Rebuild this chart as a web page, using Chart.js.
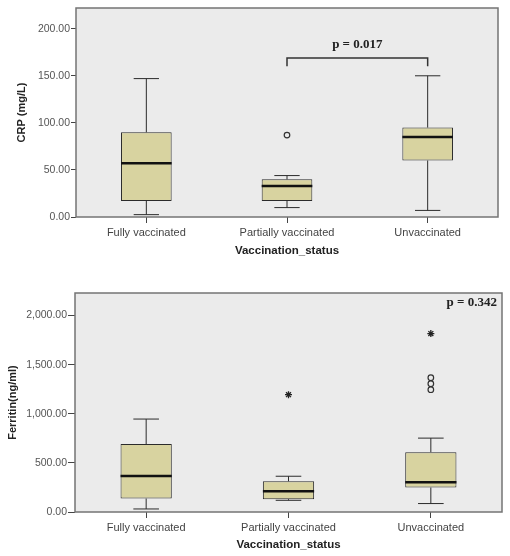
<!DOCTYPE html>
<html>
<head>
<meta charset="utf-8">
<script src="https://cdn.jsdelivr.net/npm/chart.js@4.4.1/dist/chart.umd.min.js"></script>
<style>
  html, body { margin: 0; padding: 0; background: #fff; }
  #wrap { position: relative; width: 510px; height: 556px; }
  canvas { position: absolute; left: 0; }
  #crpChart { top: 0; }
  #ferritinChart { top: 262px; }
</style>
</head>
<body>
<div id="wrap">
  <canvas id="crpChart" width="510" height="262"></canvas>
  <canvas id="ferritinChart" width="510" height="294"></canvas>
</div>
<script>
const categories = ['Fully vaccinated', 'Partially vaccinated', 'Unvaccinated'];

// CRP (mg/L) box stats per group
const crpMin = [2.5, 10, 7];
const crpQ1 = [17, 17, 60];
const crpMedian = [57, 33, 85];
const crpQ3 = [90, 40, 95];
const crpMax = [147, 44, 150];
const crpCircleGroup = [1];
const crpCircleValue = [87];
const crpStarGroup = [];
const crpStarValue = [];
const crpTicks = [0, 50, 100, 150, 200];

// Ferritin (ng/ml) box stats per group
const ferMin = [31, 119, 86];
const ferQ1 = [137, 130, 249];
const ferMedian = [367, 211, 303];
const ferQ3 = [691, 313, 609];
const ferMax = [946, 364, 752];
const ferCircleGroup = [2, 2, 2];
const ferCircleValue = [1245, 1306, 1367];
const ferStarGroup = [1, 2];
const ferStarValue = [1194, 1816];
const ferTicks = [0, 500, 1000, 1500, 2000];

const plotBg = {
    id: 'plotBg',
    beforeDraw(chart) {
        const { ctx, chartArea: a } = chart;
        ctx.save();
        ctx.fillStyle = '#ebebeb';
        ctx.fillRect(a.left, a.top, a.right - a.left, a.bottom - a.top);
        ctx.restore();
    },
    afterDraw(chart) {
        const { ctx, chartArea: a } = chart;
        ctx.save();
        ctx.strokeStyle = '#747474';
        ctx.lineWidth = 1.5;
        ctx.strokeRect(a.left, a.top, a.right - a.left, a.bottom - a.top);
        ctx.restore();
    }
};

// whiskers, caps and median line, placed with the chart scales
const boxParts = {
    id: 'boxParts',
    afterDatasetsDraw(chart, args, opts) {
        const { ctx, scales: { x, y } } = chart;
        const meta = chart.getDatasetMeta(0);
        ctx.save();
        opts.median.forEach((m, i) => {
            const bar = meta.data[i];
            const cx = x.getPixelForValue(i);
            const half = bar.width / 2;
            const cap = half / 2;
            ctx.strokeStyle = '#2b2b2b';
            ctx.lineWidth = 1;
            ctx.beginPath();
            ctx.moveTo(cx, y.getPixelForValue(opts.max[i]));
            ctx.lineTo(cx, y.getPixelForValue(opts.q3[i]));
            ctx.moveTo(cx, y.getPixelForValue(opts.q1[i]));
            ctx.lineTo(cx, y.getPixelForValue(opts.min[i]));
            ctx.moveTo(cx - cap, y.getPixelForValue(opts.max[i]));
            ctx.lineTo(cx + cap, y.getPixelForValue(opts.max[i]));
            ctx.moveTo(cx - cap, y.getPixelForValue(opts.min[i]));
            ctx.lineTo(cx + cap, y.getPixelForValue(opts.min[i]));
            ctx.stroke();
            ctx.strokeStyle = '#111';
            ctx.lineWidth = 2.5;
            ctx.beginPath();
            ctx.moveTo(cx - half, y.getPixelForValue(m));
            ctx.lineTo(cx + half, y.getPixelForValue(m));
            ctx.stroke();
        });
        ctx.restore();
    }
};

// p-value bracket / label
const pLabel = {
    id: 'pLabel',
    afterDraw(chart, args, opts) {
        if (!opts.text) return;
        const { ctx, chartArea: a, scales: { x, y } } = chart;
        ctx.save();
        ctx.font = 'bold 13px "Liberation Serif", "Times New Roman", serif';
        ctx.fillStyle = '#222';
        ctx.textBaseline = 'middle';
        if (opts.bracket) {
            const b = opts.bracket;
            const x1 = x.getPixelForValue(b.from);
            const x2 = x.getPixelForValue(b.to);
            const yTop = y.getPixelForValue(b.level);
            const yEnd = y.getPixelForValue(b.end);
            ctx.strokeStyle = '#333';
            ctx.lineWidth = 1.5;
            ctx.beginPath();
            ctx.moveTo(x1, yEnd);
            ctx.lineTo(x1, yTop);
            ctx.lineTo(x2, yTop);
            ctx.lineTo(x2, yEnd);
            ctx.stroke();
            ctx.textAlign = 'center';
            ctx.fillText(opts.text, (x1 + x2) / 2, y.getPixelForValue(b.textAt));
        } else {
            ctx.textAlign = 'right';
            ctx.fillText(opts.text, a.right - 5, a.top + 10);
        }
        ctx.restore();
    }
};

function fmt(v) {
    return v.toLocaleString('en-US', { minimumFractionDigits: 2, maximumFractionDigits: 2 });
}

function makeChart(id, s) {
    const datasets = [
        {
            type: 'bar',
            data: categories.map((c, i) => [s.q1[i], s.q3[i]]),
            backgroundColor: '#d8d3a0',
            borderColor: '#2b2b2b',
            borderWidth: 1,
            borderSkipped: false,
            barPercentage: 0.36,
            categoryPercentage: 1
        },
        {
            type: 'line',
            data: s.circleGroup.map((g, i) => ({ x: categories[g], y: s.circleValue[i] })),
            showLine: false,
            pointStyle: 'circle',
            pointRadius: 2.8,
            pointBackgroundColor: 'rgba(0,0,0,0)',
            pointBorderColor: '#333',
            pointBorderWidth: 1.2
        },
        {
            type: 'line',
            data: s.starGroup.map((g, i) => ({ x: categories[g], y: s.starValue[i] })),
            showLine: false,
            pointStyle: 'star',
            pointRadius: 3.5,
            pointBorderColor: '#222',
            pointBorderWidth: 1.3
        }
    ];
    return new Chart(document.getElementById(id), {
        type: 'bar',
        data: { labels: categories, datasets },
        plugins: [plotBg, boxParts, pLabel],
        options: {
            responsive: false,
            animation: false,
            layout: { padding: { left: 0, right: s.padRight, top: s.padTop, bottom: 0 } },
            plugins: {
                legend: { display: false },
                tooltip: { enabled: false },
                boxParts: { min: s.min, q1: s.q1, median: s.median, q3: s.q3, max: s.max },
                pLabel: s.pLabel
            },
            scales: {
                x: {
                    offset: true,
                    afterFit: sc => { sc.height = s.xHeight; },
                    grid: { display: true, drawOnChartArea: false, drawTicks: true, tickLength: 6, offset: false, color: '#444' },
                    border: { display: false },
                    ticks: { color: '#444', padding: 3, font: { family: '"Liberation Sans", Arial, sans-serif', size: 11 } },
                    title: { display: true, text: 'Vaccination_status', color: '#222', padding: { top: 0, bottom: 4 },
                        font: { family: '"Liberation Sans", Arial, sans-serif', size: 11.5, weight: 'bold' } }
                },
                y: {
                    min: 0,
                    max: s.yMax,
                    afterFit: sc => { sc.width = s.yWidth; },
                    afterBuildTicks: sc => { sc.ticks = s.ticks.map(v => ({ value: v })); },
                    grid: { display: true, drawOnChartArea: false, drawTicks: true, tickLength: s.tickLen, color: '#444' },
                    border: { display: false },
                    ticks: { color: '#555', padding: 1,
                        font: { family: '"Liberation Sans", Arial, sans-serif', size: 10.5 },
                        callback: v => fmt(v) },
                    title: { display: true, text: s.yTitle, color: '#222', padding: { top: s.yTitlePad, bottom: 0 },
                        font: { family: '"Liberation Sans", Arial, sans-serif', size: 11, weight: 'bold' } }
                }
            }
        }
    });
}

makeChart('crpChart', {
    min: crpMin, q1: crpQ1, median: crpMedian, q3: crpQ3, max: crpMax,
    circleGroup: crpCircleGroup, circleValue: crpCircleValue,
    starGroup: crpStarGroup, starValue: crpStarValue, ticks: crpTicks,
    yMax: 222, yTitle: 'CRP (mg/L)', yTitlePad: 15,
    yWidth: 76, padRight: 12, padTop: 8, xHeight: 45, tickLen: 5,
    pLabel: { text: 'p = 0.017', bracket: { from: 1, to: 2, level: 169, end: 160, textAt: 183 } }
});

makeChart('ferritinChart', {
    min: ferMin, q1: ferQ1, median: ferMedian, q3: ferQ3, max: ferMax,
    circleGroup: ferCircleGroup, circleValue: ferCircleValue,
    starGroup: ferStarGroup, starValue: ferStarValue, ticks: ferTicks,
    yMax: 2229, yTitle: 'Ferritin(ng/ml)', yTitlePad: 6,
    yWidth: 75, padRight: 8, padTop: 31, xHeight: 44, tickLen: 7,
    pLabel: { text: 'p = 0.342' }
});
</script>
</body>
</html>
